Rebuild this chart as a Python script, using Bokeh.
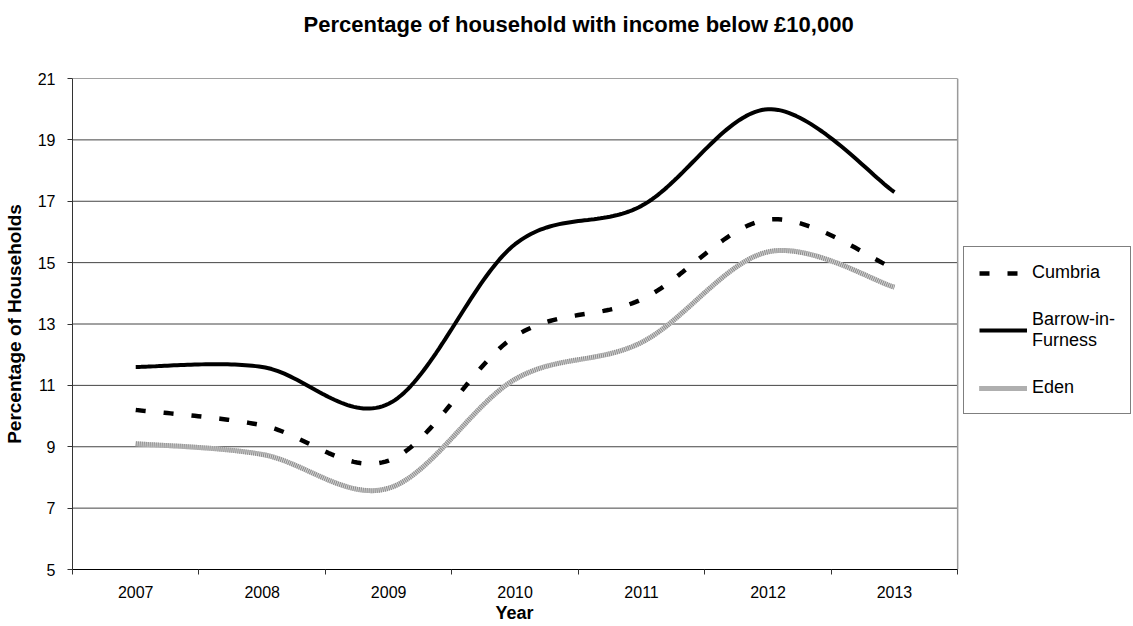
import numpy as np
from bokeh.plotting import figure
from bokeh.models import (Range1d, FixedTicker, Legend, LegendItem, Title)
from bokeh.embed import file_html
from bokeh.resources import INLINE

# ---- data ----
years = ["2007", "2008", "2009", "2010", "2011", "2012", "2013"]
cumbria = [10.2, 9.7, 8.55, 12.6, 13.8, 16.4, 14.8]
barrow = [11.6, 11.6, 10.4, 15.6, 16.85, 20.0, 17.3]
eden = [9.1, 8.75, 7.65, 11.2, 12.4, 15.35, 14.2]
y_ticks = [5, 7, 9, 11, 13, 15, 17, 19, 21]

FONT = "Liberation Sans"


def smooth(xs, ys, n=40):
    """Excel-style smoothed line (cubic Bezier, tension 1/6) through the points."""
    xs = np.asarray(xs, float)
    ys = np.asarray(ys, float)
    px, py = [], []
    m = len(xs)
    for i in range(m - 1):
        x0, y0 = (xs[i - 1], ys[i - 1]) if i > 0 else (xs[i], ys[i])
        x1, y1 = xs[i], ys[i]
        x2, y2 = xs[i + 1], ys[i + 1]
        x3, y3 = (xs[i + 2], ys[i + 2]) if i + 2 < m else (xs[i + 1], ys[i + 1])
        c1x, c1y = x1 + (x2 - x0) / 6, y1 + (y2 - y0) / 6
        c2x, c2y = x2 - (x3 - x1) / 6, y2 - (y3 - y1) / 6
        t = np.linspace(0, 1, n, endpoint=(i == m - 2))
        a, b, c, d = (1 - t) ** 3, 3 * (1 - t) ** 2 * t, 3 * (1 - t) * t ** 2, t ** 3
        px.extend(a * x1 + b * c1x + c * c2x + d * x2)
        py.extend(a * y1 + b * c1y + c * c2y + d * y2)
    return px, py


ncat = len(years)
xc = [i + 0.5 for i in range(ncat)]

# plot area spans 71..957 px for the categories; the frame is extended to the
# window edge so that the legend (which sits right of the plot area) is drawn.
LEFT, PLOT_RIGHT, W = 71, 957, 1133
x_end = ncat * (W - LEFT) / (PLOT_RIGHT - LEFT)

p = figure(width=W, height=626, output_backend="svg", toolbar_location=None,
           x_range=Range1d(0, x_end), y_range=Range1d(5, 21),
           min_border_left=LEFT, min_border_right=0, min_border_top=78,
           min_border_bottom=55, background_fill_color="white",
           border_fill_color="white")

p.outline_line_color = None

# title (a blank spacer title keeps the real one higher above the frame)
spacer = Title(text=" ", text_font_size="1px", standoff=34)
p.add_layout(spacer, "above")
t = Title(text="Percentage of household with income below £10,000",
          text_font=FONT, text_font_size="22px", text_font_style="bold",
          text_color="black", align="left", offset=231, standoff=10)
p.add_layout(t, "above")

# axes
p.xaxis.bounds = (0, ncat)
p.xaxis.ticker = FixedTicker(ticks=xc, minor_ticks=list(range(ncat + 1)))
p.xaxis.major_label_overrides = {x: y for x, y in zip(xc, years)}
p.xaxis.major_tick_out = 0
p.xaxis.major_tick_in = 0
p.xaxis.minor_tick_out = 5
p.xaxis.minor_tick_in = 0
p.xaxis.minor_tick_line_color = "#333333"
p.xaxis.axis_line_color = "black"
p.xaxis.major_label_text_font = FONT
p.xaxis.major_label_text_font_size = "16px"
p.xaxis.major_label_text_color = "black"
p.xaxis.major_label_standoff = 11

# x-axis title, centred under the plot area (not the extended frame)
xtitle = Title(text="Year", text_font=FONT, text_font_size="18px",
               text_font_style="bold", text_color="black", align="left",
               offset=(PLOT_RIGHT - LEFT) / 2 - 20, standoff=4,
               vertical_align="top")
p.add_layout(xtitle, "below")

p.yaxis.ticker = FixedTicker(ticks=y_ticks, minor_ticks=[])
p.yaxis.major_tick_out = 5
p.yaxis.major_tick_in = 0
p.yaxis.major_tick_line_color = "#333333"
p.yaxis.axis_line_color = "#333333"
p.yaxis.major_label_text_font = FONT
p.yaxis.major_label_text_font_size = "16px"
p.yaxis.major_label_text_color = "black"
p.yaxis.major_label_standoff = 12
p.yaxis.axis_label = "Percentage of Households"
p.yaxis.axis_label_text_font = FONT
p.yaxis.axis_label_text_font_size = "19px"
p.yaxis.axis_label_text_font_style = "bold"
p.yaxis.axis_label_text_color = "black"
p.yaxis.axis_label_standoff = 10

p.xgrid.visible = False
p.ygrid.visible = False

# horizontal gridlines limited to the plot area, plus the plot-area border on the right
p.segment(x0=[0] * len(y_ticks), x1=[ncat] * len(y_ticks), y0=y_ticks, y1=y_ticks,
          line_color="#444444", line_width=1)
p.segment(x0=[ncat], x1=[ncat], y0=[y_ticks[0]], y1=[y_ticks[-1]],
          line_color="#9a9a9a", line_width=1.5)

# series
cx, cy = smooth(xc, cumbria)
bx, by = smooth(xc, barrow)
ex, ey = smooth(xc, eden)

r_eden1 = p.line(ex, ey, line_color="#d4d4d4", line_width=5)
r_eden2 = p.line(ex, ey, line_color="#8a8a8a", line_width=5, line_dash="1 1")
r_cum = p.line(cx, cy, line_color="black", line_width=4.5, line_dash="10 18")
r_bar = p.line(bx, by, line_color="black", line_width=4)

legend = Legend(items=[
    LegendItem(label="Cumbria", renderers=[r_cum]),
    LegendItem(label="Barrow-in-\nFurness", renderers=[r_bar]),
    LegendItem(label="Eden", renderers=[r_eden1, r_eden2]),
], location=(PLOT_RIGHT + 5 - LEFT, 155))
legend.label_text_font = FONT
legend.label_text_font_size = "18px"
legend.label_text_color = "black"
legend.glyph_width = 48
legend.glyph_height = 20
legend.label_standoff = 5
legend.padding = 15
legend.spacing = 26
legend.margin = 0
legend.border_line_color = "black"
legend.border_line_width = 1
legend.background_fill_color = "white"
legend.background_fill_alpha = 1
p.add_layout(legend)

open("out.html", "w").write(file_html(p, INLINE))
